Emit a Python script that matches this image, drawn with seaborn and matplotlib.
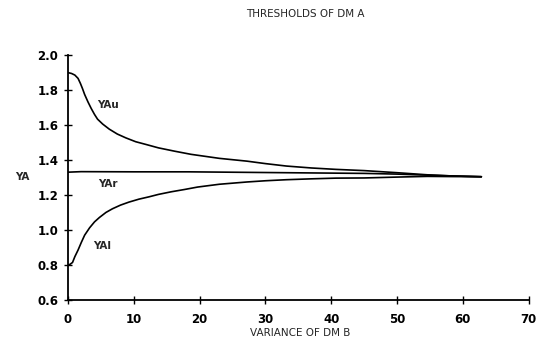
import numpy as np
import pandas as pd
import matplotlib
matplotlib.use("Agg")
import matplotlib.pyplot as plt
import seaborn as sns

sns.set_style("ticks")
plt.rcParams["font.family"] = ["DejaVu Sans"]

# === Data ===
yau_x = [0.0, 0.55, 1.05, 1.54, 1.9, 2.2, 2.54, 3.04, 3.54, 4.04, 4.5, 5.28, 6.28, 7.5,
         8.8, 10.3, 11.8, 13.75, 16.2, 18.7, 23.0, 27.2, 30.0, 33.2, 37.0, 40.7, 45.0,
         50.0, 54.6, 58.0, 62.8]
yau_y = [1.90, 1.895, 1.886, 1.867, 1.838, 1.81, 1.775, 1.733, 1.695, 1.661, 1.634, 1.606,
         1.577, 1.549, 1.527, 1.505, 1.49, 1.47, 1.451, 1.433, 1.41, 1.394, 1.38, 1.366,
         1.355, 1.347, 1.34, 1.328, 1.316, 1.31, 1.305]

yar_x = [0.0, 2.0, 10.0, 18.3, 27.2, 36.0, 45.1, 50.0, 54.6, 58.0, 62.8]
yar_y = [1.331, 1.334, 1.333, 1.333, 1.330, 1.327, 1.324, 1.32, 1.314, 1.31, 1.305]

yal_x = [0.0, 0.3, 0.7, 1.05, 1.54, 2.04, 2.54, 3.29, 4.04, 4.78, 5.78, 6.77, 8.0, 9.27,
         10.8, 12.3, 13.75, 15.7, 17.7, 19.7, 23.0, 27.2, 30.0, 33.2, 37.0, 40.7, 45.0,
         50.0, 54.6, 58.0, 62.8]
yal_y = [0.80, 0.804, 0.815, 0.848, 0.886, 0.93, 0.971, 1.013, 1.047, 1.072, 1.101, 1.122,
         1.143, 1.16, 1.177, 1.19, 1.204, 1.219, 1.232, 1.246, 1.262, 1.275, 1.282, 1.288,
         1.293, 1.297, 1.298, 1.303, 1.307, 1.306, 1.305]

x_ticks = [0, 10, 20, 30, 40, 50, 60, 70]
y_ticks = [0.6, 0.8, 1.0, 1.2, 1.4, 1.6, 1.8, 2.0]

df = pd.concat([
    pd.DataFrame({"variance": yau_x, "ya": yau_y, "curve": "YAu"}),
    pd.DataFrame({"variance": yar_x, "ya": yar_y, "curve": "YAr"}),
    pd.DataFrame({"variance": yal_x, "ya": yal_y, "curve": "YAl"}),
])

# === Figure ===
fig = plt.figure(figsize=(5.39, 3.51), dpi=100)
ax = fig.add_axes([0.126, 0.145, 0.855, 0.698])

sns.lineplot(data=df, x="variance", y="ya", units="curve", estimator=None,
             color="black", linewidth=1.2, sort=False, ax=ax, legend=False)

ax.set_xlim(0, 70)
ax.set_ylim(0.6, 2.0)
ax.set_xticks(x_ticks)
ax.set_yticks(y_ticks)
ax.set_yticklabels([f"{v:.1f}" for v in y_ticks])
ax.tick_params(direction="inout", length=6, width=1.0, colors="black",
               labelsize=8.5, pad=4)
for lab in ax.get_xticklabels() + ax.get_yticklabels():
    lab.set_fontweight("bold")
ax.tick_params(axis="x", pad=6)

sns.despine(ax=ax)
for side in ["left", "bottom"]:
    ax.spines[side].set_linewidth(1.3)
    ax.spines[side].set_color("black")

ax.set_xlabel("")
ax.set_ylabel("")

# curve labels
ax.text(6.1, 1.714, "YAu", fontsize=7.5, fontweight="bold", ha="center", va="center")
ax.text(6.1, 1.263, "YAr", fontsize=7.5, fontweight="bold", ha="center", va="center")
ax.text(5.2, 0.909, "YAl", fontsize=7.5, fontweight="bold", ha="center", va="center")

# titles / axis labels placed in figure pixels
fig.text(305 / 539, 1 - 14 / 351, "THRESHOLDS OF DM A", fontsize=7.5,
         ha="center", va="center")
fig.text(300 / 539, 1 - 333 / 351, "VARIANCE OF DM B", fontsize=7.5,
         ha="center", va="center")
fig.text(22.5 / 539, 1 - 177.5 / 351, "YA", fontsize=7.5, fontweight="bold",
         ha="center", va="center")

fig.savefig("out.png", dpi=100)
